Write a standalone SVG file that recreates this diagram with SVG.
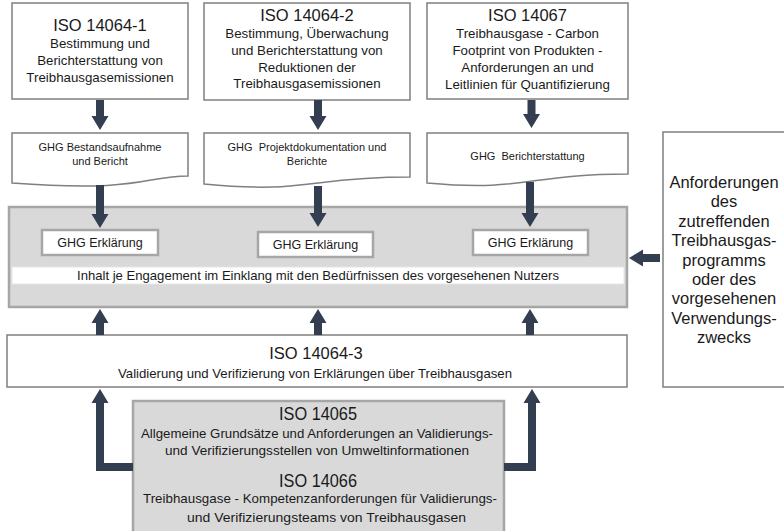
<svg xmlns="http://www.w3.org/2000/svg" width="784" height="531" viewBox="0 0 784 531">
<style>
text{font-family:"Liberation Sans",Arial,sans-serif;fill:#1a1a1a;text-anchor:middle}
.box{fill:#fff;stroke:#7f7f7f;stroke-width:1.5}
.gbox{fill:#d9d9d9;stroke:#a6a6a6;stroke-width:2.5}
.ebox{fill:#fff;stroke:#a6a6a6;stroke-width:2.5}
.strip{fill:#fff;stroke:#e6e6e6;stroke-width:1}
.t{font-size:16.5px}
.s{font-size:13.3px}
.d{font-size:11px}
.e{font-size:12.5px}
.m{font-size:13px}
.r{font-size:16.5px}
.b{font-size:13.5px}
.bt{font-size:18px}
.arr{fill:#333f50}
</style>
<rect width="784" height="531" fill="#fff"/>

<g id="iso14064-1">
<rect class="box" x="12" y="3" width="176" height="96"/>
<text class="t" x="100" y="31">ISO 14064-1</text>
<text class="s" x="100" y="48">Bestimmung und</text>
<text class="s" x="100" y="65">Berichterstattung von</text>
<text class="s" x="100" y="82">Treibhausgasemissionen</text>
</g>

<g id="iso14064-2">
<rect class="box" x="204" y="3" width="206" height="97"/>
<text class="t" x="307" y="21">ISO 14064-2</text>
<text class="s" x="307" y="38">Bestimmung, Überwachung</text>
<text class="s" x="307" y="55">und Berichterstattung von</text>
<text class="s" x="307" y="72">Reduktionen der</text>
<text class="s" x="307" y="88">Treibhausgasemissionen</text>
</g>

<g id="iso14067">
<rect class="box" x="427" y="3" width="201" height="96"/>
<text class="t" x="527.5" y="21">ISO 14067</text>
<text class="s" x="527.5" y="38">Treibhausgase - Carbon</text>
<text class="s" x="527.5" y="55">Footprint von Produkten -</text>
<text class="s" x="527.5" y="72">Anforderungen an und</text>
<text class="s" x="527.5" y="89">Leitlinien für Quantifizierung</text>
</g>

<g id="doc1">
<path class="box" d="M12,133 H188 V176 C144,176 144,192.5 12,183 Z"/>
<text class="d" x="100" y="151">GHG Bestandsaufnahme</text>
<text class="d" x="100" y="165">und Bericht</text>
</g>

<g id="doc2">
<path class="box" d="M204,133 H410 V177 C307,177 307,194 204,184 Z"/>
<text class="d" x="307" y="151" xml:space="preserve">GHG  Projektdokumentation und</text>
<text class="d" x="307" y="165">Berichte</text>
</g>

<g id="doc3">
<path class="box" d="M427,133 H628 V174 C527,174 527,192 427,183 Z"/>
<text class="d" x="527.5" y="160" xml:space="preserve">GHG  Berichterstattung</text>
</g>

<g id="erklaerungen">
<rect class="gbox" x="9" y="207" width="618" height="100"/>
<rect class="strip" x="12" y="267" width="612" height="17"/>
<text class="m" x="318" y="280" textLength="482" lengthAdjust="spacingAndGlyphs">Inhalt je Engagement im Einklang mit den Bedürfnissen des vorgesehenen Nutzers</text>
</g>

<g id="ghg1">
<rect class="ebox" x="42" y="230" width="116" height="25"/>
<text class="e" x="100" y="247">GHG Erklärung</text>
</g>
<g id="ghg2">
<rect class="ebox" x="258" y="232" width="115" height="25"/>
<text class="e" x="315.5" y="249">GHG Erklärung</text>
</g>
<g id="ghg3">
<rect class="ebox" x="473" y="230" width="115" height="25"/>
<text class="e" x="530.5" y="247">GHG Erklärung</text>
</g>

<g id="anforderungen">
<rect class="box" x="663" y="132" width="130" height="255"/>
<text class="r" x="724" y="188">Anforderungen</text>
<text class="r" x="724" y="207.4">des</text>
<text class="r" x="724" y="226.8">zutreffenden</text>
<text class="r" x="724" y="246.2">Treibhausgas-</text>
<text class="r" x="724" y="265.6">programms</text>
<text class="r" x="724" y="285">oder des</text>
<text class="r" x="724" y="304.4">vorgesehenen</text>
<text class="r" x="724" y="323.8">Verwendungs-</text>
<text class="r" x="724" y="343.2">zwecks</text>
</g>

<g id="iso14064-3">
<rect class="box" x="7" y="335" width="620" height="52"/>
<text class="t" x="316" y="359">ISO 14064-3</text>
<text class="m" x="315" y="378" textLength="394" lengthAdjust="spacingAndGlyphs">Validierung und Verifizierung von Erklärungen über Treibhausgasen</text>
</g>

<g id="iso14065-14066">
<rect class="gbox" x="133" y="401" width="371" height="135"/>
<text class="bt" x="318" y="420" textLength="78" lengthAdjust="spacingAndGlyphs">ISO 14065</text>
<text class="b" x="317" y="438" textLength="352" lengthAdjust="spacingAndGlyphs">Allgemeine Grundsätze und Anforderungen an Validierungs-</text>
<text class="b" x="317" y="455" textLength="304" lengthAdjust="spacingAndGlyphs">und Verifizierungsstellen von Umweltinformationen</text>
<text class="bt" x="318" y="487" textLength="78" lengthAdjust="spacingAndGlyphs">ISO 14066</text>
<text class="b" x="320" y="503" textLength="354" lengthAdjust="spacingAndGlyphs">Treibhausgase - Kompetenzanforderungen für Validierungs-</text>
<text class="b" x="326.5" y="522" textLength="279" lengthAdjust="spacingAndGlyphs">und Verifizierungsteams von Treibhausgasen</text>
</g>

<g id="connectors" class="arr">
<path d="M96,100 H104 V116 H108.5 L100,130 L91.5,116 H96 Z"/>
<path d="M314,100 H322 V116 H326.5 L318,130 L309.5,116 H314 Z"/>
<path d="M527.5,100 H535.5 V114 H540 L531.5,128 L523,114 H527.5 Z"/>
<path d="M96,185 H104 V214 H108.5 L100,228 L91.5,214 H96 Z"/>
<path d="M314,186 H322 V213 H326.5 L318,227 L309.5,213 H314 Z"/>
<path d="M526,182 H534 V213 H538.5 L530,227 L521.5,213 H526 Z"/>
<path d="M660,254 V262 H643 V266.5 L629,258 L643,249.5 V254 Z"/>
<path d="M96,335 H104 V323 H108.5 L100,309 L91.5,323 H96 Z"/>
<path d="M314,335 H322 V323 H326.5 L318,309 L309.5,323 H314 Z"/>
<path d="M526,335 H534 V323 H538.5 L530,309 L521.5,323 H526 Z"/>
<path d="M133,463 V471 H96 V403 H91.5 L100,389 L108.5,403 H104 V463 Z"/>
<path d="M504,463 V471 H536 V403 H540.5 L532,389 L523.5,403 H528 V463 Z"/>
</g>
</svg>
